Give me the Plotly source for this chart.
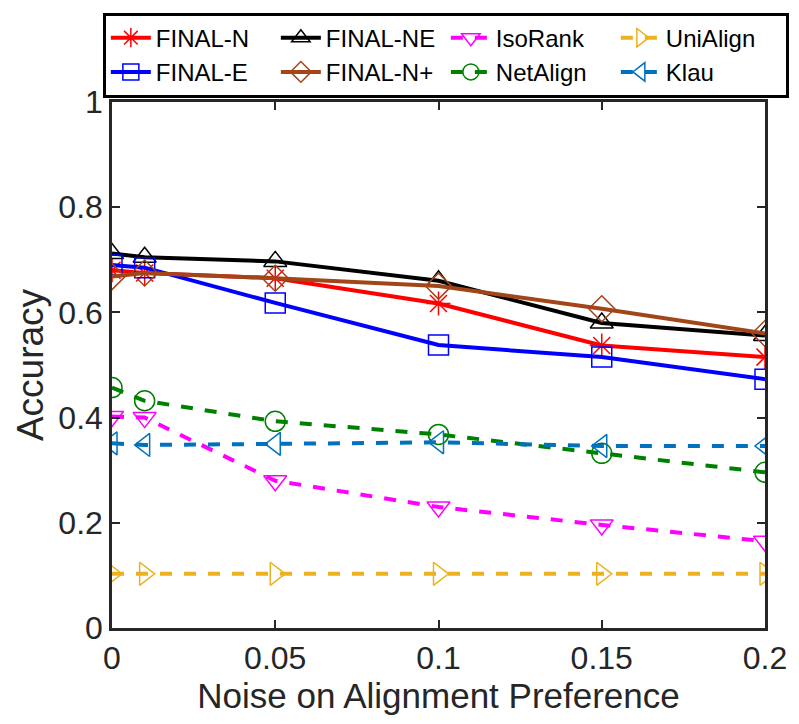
import plotly.graph_objects as go

x = [0, 0.01, 0.05, 0.1, 0.15, 0.2]

final_n = [0.68, 0.675, 0.665, 0.617, 0.537, 0.515]
final_ne = [0.712, 0.705, 0.697, 0.66, 0.58, 0.556]
isorank = [0.402, 0.40, 0.28, 0.23, 0.196, 0.165]
unialign = [0.103, 0.103, 0.103, 0.103, 0.103, 0.103]
final_e = [0.69, 0.685, 0.618, 0.538, 0.515, 0.473]
final_np = [0.668, 0.675, 0.665, 0.65, 0.607, 0.56]
netalign = [0.457, 0.432, 0.393, 0.368, 0.332, 0.296]
klau = [0.351, 0.348, 0.35, 0.353, 0.346, 0.346]

series = [
    ("FINAL-N", final_n, "#FF0000", "asterisk-open", "solid"),
    ("FINAL-NE", final_ne, "#000000", "triangle-up-open", "solid"),
    ("IsoRank", isorank, "#FF00FF", "triangle-down-open", "dash"),
    ("UniAlign", unialign, "#EDB120", "triangle-right-open", "dash"),
    ("FINAL-E", final_e, "#0000FF", "square-open", "solid"),
    ("FINAL-N+", final_np, "#A2461A", "diamond-open", "solid"),
    ("NetAlign", netalign, "#008000", "circle-open", "dash"),
    ("Klau", klau, "#0072BD", "triangle-left-open", "dash"),
]

FONT = "Liberation Sans, Arial, sans-serif"

fig = go.Figure()
for name, vals, color, sym, dash in series:
    fig.add_trace(go.Scatter(
        x=x, y=vals, name=name, mode="lines+markers",
        line=dict(color=color, width=4, dash=dash),
        marker=dict(symbol=sym, size=20, color=color, line=dict(color=color, width=1.5)),
    ))

fig.update_layout(
    width=799, height=724,
    margin=dict(l=112, r=31, t=98, b=96),
    paper_bgcolor="white", plot_bgcolor="white",
    font=dict(family=FONT, color="#262626", size=32),
    showlegend=True,
    legend=dict(
        orientation="h", x=-0.014, y=1.17, xanchor="left", yanchor="top",
        bordercolor="black", borderwidth=3, bgcolor="white",
        font=dict(size=24, color="black", family=FONT),
        entrywidth=115, entrywidthmode="pixels",
        itemwidth=40, tracegroupgap=0,
    ),
)
fig.update_xaxes(
    range=[0, 0.2], tickvals=[0, 0.05, 0.1, 0.15, 0.2],
    ticktext=["0", "0.05", "0.1", "0.15", "0.2"],
    ticks="inside", ticklen=8, tickwidth=1.5, tickcolor="#262626",
    showline=True, linecolor="#262626", linewidth=2.5, mirror="ticks",
    showgrid=False, zeroline=False,
    title=dict(text="Noise on Alignment Preference", font=dict(size=35), standoff=6),
    tickfont=dict(size=32),
)
fig.update_yaxes(
    range=[0, 1], tickvals=[0, 0.2, 0.4, 0.6, 0.8, 1],
    ticktext=["0", "0.2", "0.4", "0.6", "0.8", "1"],
    ticks="inside", ticklen=8, tickwidth=1.5, tickcolor="#262626",
    showline=True, linecolor="#262626", linewidth=2.5, mirror="ticks",
    showgrid=False, zeroline=False,
    title=dict(text="Accuracy", font=dict(size=37), standoff=4),
    tickfont=dict(size=32),
)

fig.write_html("out.html")
